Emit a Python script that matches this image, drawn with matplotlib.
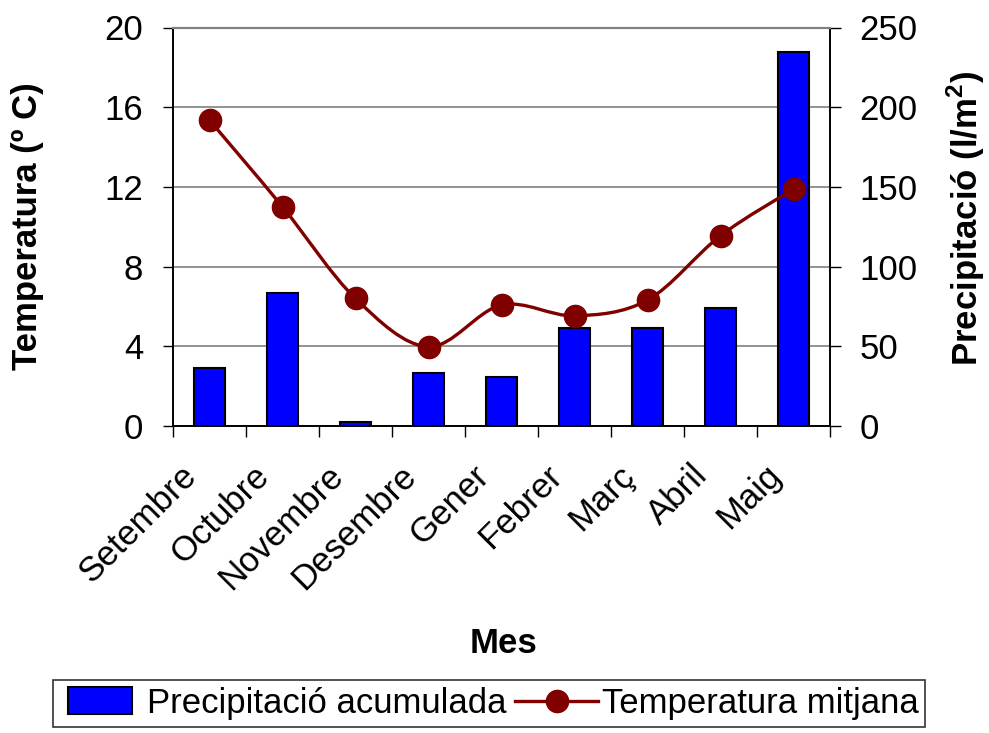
import numpy as np
import matplotlib
matplotlib.use('Agg')
import matplotlib.pyplot as plt
import matplotlib.transforms as mtransforms
from matplotlib.path import Path
from matplotlib.patches import PathPatch, Rectangle
from matplotlib.lines import Line2D
from matplotlib.legend_handler import HandlerPatch

plt.rcParams['font.family'] = ['Liberation Sans', 'DejaVu Sans']
plt.rcParams['mathtext.fontset'] = 'custom'
plt.rcParams['mathtext.rm'] = 'Liberation Sans:bold'
plt.rcParams['mathtext.bf'] = 'Liberation Sans:bold'

# dades llegides del gràfic
mesos = ['Setembre', 'Octubre', 'Novembre', 'Desembre', 'Gener',
         'Febrer', 'Març', 'Abril', 'Maig']
precipitacio = [36.2, 83.6, 2.5, 33.4, 30.5, 61.3, 61.3, 73.8, 234.4]
temperatura = [15.35, 11.0, 6.4, 3.98, 6.07, 5.53, 6.32, 9.55, 11.89]

W, H = 989, 733
COL_LINE = '#800000'
COL_BAR = '#0000FF'
FS_TICK = 25
FS_LABEL = 25
FS_LEG = 25


def smooth_path(xs, ys, k=1 / 6):
    """corba Bezier suau (tipus Excel) que passa pels punts."""
    pts = np.column_stack([xs, ys]).astype(float)
    n = len(pts)
    verts = [pts[0]]
    codes = [Path.MOVETO]
    for i in range(n - 1):
        p0 = pts[max(i - 1, 0)]
        p1 = pts[i]
        p2 = pts[i + 1]
        p3 = pts[min(i + 2, n - 1)]
        c1 = p1 + (p2 - p0) * k
        c2 = p2 - (p3 - p1) * k
        verts += [c1, c2, p2]
        codes += [Path.CURVE4] * 3
    return Path(verts, codes)


fig = plt.figure(figsize=(W / 100, H / 100), dpi=100)
left, right = 173 / W, 830 / W
bottom, top = 1 - 426 / H, 1 - 27.5 / H
ax2 = fig.add_axes([left, bottom, right - left, top - bottom])  # precipitació (barres)
ax = ax2.twinx()
ax.yaxis.tick_left()
ax2.yaxis.tick_right()
ax.set_zorder(ax2.get_zorder() + 1)
ax.patch.set_visible(False)

x = np.arange(len(mesos))
ax2.bar(x, precipitacio, width=0.43, color=COL_BAR,
        edgecolor='black', linewidth=1.5, zorder=3)
ax2.set_ylim(0, 250)
ax2.set_yticks(np.arange(0, 251, 50))
ax2.set_xlim(-0.5, len(mesos) - 0.5)
ax2.set_axisbelow(True)
ax2.yaxis.grid(True, color='#808080', linewidth=1.2, zorder=0)

ax.set_ylim(0, 20)
ax.set_yticks(np.arange(0, 21, 4))
ax.add_patch(PathPatch(smooth_path(x, temperatura), facecolor='none',
                       edgecolor=COL_LINE, linewidth=2.4, zorder=4))
ax.plot(x, temperatura, linestyle='none', marker='o', markersize=16,
        color=COL_LINE, zorder=5)

# eix x: marques entre categories, etiquetes al centre
ax2.set_xticks(np.arange(-0.5, len(mesos), 1))
ax2.set_xticklabels([])
ax2.set_xticks(x, minor=True)
ax2.set_xticklabels(mesos, minor=True, rotation=45, ha='right',
                    va='center', rotation_mode='anchor', fontsize=FS_TICK)
ax2.tick_params(axis='x', which='major', direction='out', length=8,
                width=1, color='black')
ax2.tick_params(axis='x', which='minor', length=0, pad=32)
ax.tick_params(axis='x', which='both', length=0, labelbottom=False)
shift = mtransforms.ScaledTranslation(-18 / 100, 0, fig.dpi_scale_trans)
for lbl in ax2.get_xticklabels(minor=True):
    lbl.set_transform(lbl.get_transform() + shift)

ax.tick_params(axis='y', direction='out', length=7.5, width=1,
               labelsize=FS_TICK, pad=14)
ax2.tick_params(axis='y', direction='out', length=8, width=1,
                labelsize=FS_TICK, pad=13)

for a in (ax, ax2):
    for s in ('left', 'right', 'bottom'):
        a.spines[s].set_color('black')
        a.spines[s].set_linewidth(1.2)
    a.spines['top'].set_color('#808080')
    a.spines['top'].set_linewidth(1.5)

fig.text(28 / W, 1 - 226 / H, 'Temperatura (º C)', rotation=90,
         ha='center', va='center', fontsize=FS_LABEL, fontweight='bold')
fig.text(966 / W, 1 - 218 / H, r'Precipitació (l/m$^2$)', rotation=90,
         ha='center', va='center', fontsize=FS_LABEL, fontweight='bold')
fig.text(503 / W, 1 - 653 / H, 'Mes', ha='center', va='baseline',
         fontsize=FS_LABEL, fontweight='bold')


def narrow_rect(legend, orig_handle, xdescent, ydescent, width, height, fontsize):
    # rectangle més estret que la línia, alineat a l'esquerra
    return Rectangle((-xdescent + width * 0.096, -ydescent - 1),
                     width * 0.77, height + 2)


bar_handle = Rectangle((0, 0), 1, 1, facecolor=COL_BAR, edgecolor='black',
                       linewidth=1.5)
line_handle = Line2D([], [], color=COL_LINE, linewidth=2.4, marker='o',
                     markersize=16)
leg = fig.legend([bar_handle, line_handle],
                 ['Precipitació acumulada', 'Temperatura mitjana'],
                 loc='upper left', bbox_to_anchor=(53 / W, 1 - 680 / H),
                 ncol=2, fontsize=FS_LEG, frameon=True, fancybox=False,
                 borderpad=0.2, borderaxespad=0, handlelength=2.4,
                 handletextpad=0.1, columnspacing=0.25,
                 handler_map={Rectangle: HandlerPatch(patch_func=narrow_rect)})
leg.get_frame().set_edgecolor('black')
leg.get_frame().set_linewidth(1.2)

fig.savefig('out.png', dpi=100)
